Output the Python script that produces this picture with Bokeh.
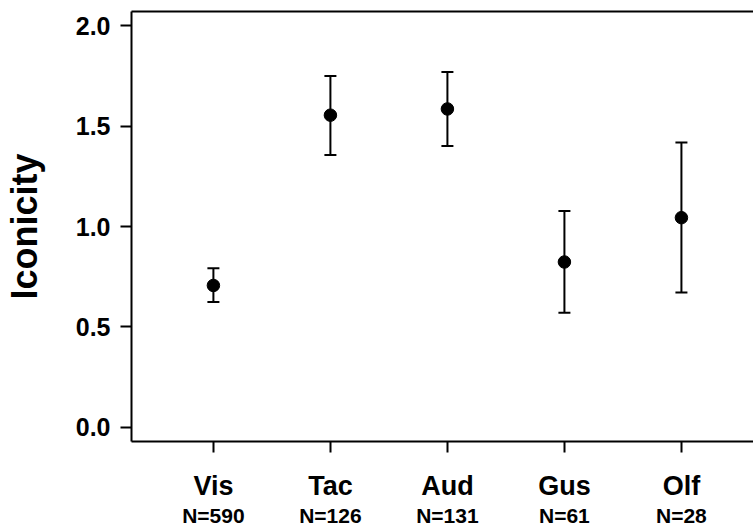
from bokeh.plotting import figure
from bokeh.models import (ColumnDataSource, Range1d, LinearAxis, FixedTicker,
                          Whisker, TeeHead)
from bokeh.embed import file_html
from bokeh.resources import INLINE

categories = ["Vis", "Tac", "Aud", "Gus", "Olf"]
n_labels = ["N=590", "N=126", "N=131", "N=61", "N=28"]
means = [0.706, 1.555, 1.586, 0.823, 1.044]
lower = [0.624, 1.357, 1.402, 0.570, 0.671]
upper = [0.792, 1.750, 1.770, 1.077, 1.419]
y_ticks = [0.0, 0.5, 1.0, 1.5, 2.0]

xpos = list(range(1, len(categories) + 1))
src = ColumnDataSource(dict(x=xpos, m=means, lo=lower, hi=upper))

FONT = "Liberation Sans"

p = figure(width=753, height=529, output_backend="svg", toolbar_location=None,
           x_range=Range1d(0.3, 5.616), y_range=Range1d(-0.072, 2.072),
           x_axis_location=None, y_axis_location=None,
           min_border_left=131, min_border_top=11, min_border_bottom=87,
           min_border_right=0)
p.outline_line_color = None
p.grid.visible = False
p.background_fill_color = "white"
p.border_fill_color = "white"

# left axis
ya = LinearAxis(ticker=FixedTicker(ticks=y_ticks))
ya.major_label_overrides = {t: f"{t:.1f}" for t in y_ticks}
ya.axis_label = "Iconicity"
ya.axis_label_text_font = FONT
ya.axis_label_text_font_style = "bold"
ya.axis_label_text_font_size = "36px"
ya.axis_label_text_color = "black"
ya.axis_label_standoff = 28
ya.major_label_text_font = FONT
ya.major_label_text_font_style = "bold"
ya.major_label_text_font_size = "25px"
ya.major_label_text_color = "black"
ya.major_label_standoff = 10
ya.axis_line_width = 2
ya.axis_line_color = "black"
ya.major_tick_line_width = 2
ya.major_tick_line_color = "black"
ya.major_tick_out = 11
ya.major_tick_in = 0
ya.minor_tick_line_color = None
p.add_layout(ya, "left")

# bottom axis: line, ticks and category names
xa = LinearAxis(ticker=FixedTicker(ticks=xpos))
xa.major_label_overrides = {i: c for i, c in zip(xpos, categories)}
xa.major_label_text_font = FONT
xa.major_label_text_font_style = "bold"
xa.major_label_text_font_size = "27px"
xa.major_label_text_color = "black"
xa.major_label_standoff = 18
xa.axis_line_width = 2
xa.axis_line_color = "black"
xa.major_tick_line_width = 2
xa.major_tick_line_color = "black"
xa.major_tick_out = 11
xa.major_tick_in = 0
xa.minor_tick_line_color = None
p.add_layout(xa, "below")

# second bottom axis: N labels only
xn = LinearAxis(ticker=FixedTicker(ticks=xpos))
xn.major_label_overrides = {i: c for i, c in zip(xpos, n_labels)}
xn.major_label_text_font = FONT
xn.major_label_text_font_style = "bold"
xn.major_label_text_font_size = "21px"
xn.major_label_text_color = "black"
xn.major_label_standoff = 0
xn.axis_line_color = None
xn.major_tick_line_color = None
xn.major_tick_out = 0
xn.major_tick_in = 0
xn.minor_tick_line_color = None
p.add_layout(xn, "below")

# top line
ta = LinearAxis(ticker=FixedTicker(ticks=[]))
ta.axis_line_width = 2
ta.axis_line_color = "black"
ta.major_label_text_font_size = "0px"
ta.major_label_standoff = 0
ta.major_tick_out = 0
ta.major_tick_line_color = None
ta.minor_tick_line_color = None
p.add_layout(ta, "above")

w = Whisker(source=src, base="x", lower="lo", upper="hi",
            line_color="black", line_width=2,
            upper_head=TeeHead(size=12, line_width=2, line_color="black"),
            lower_head=TeeHead(size=12, line_width=2, line_color="black"))
p.add_layout(w)

p.scatter("x", "m", source=src, size=12.5, color="black")

open("out.html", "w").write(file_html(p, INLINE))
